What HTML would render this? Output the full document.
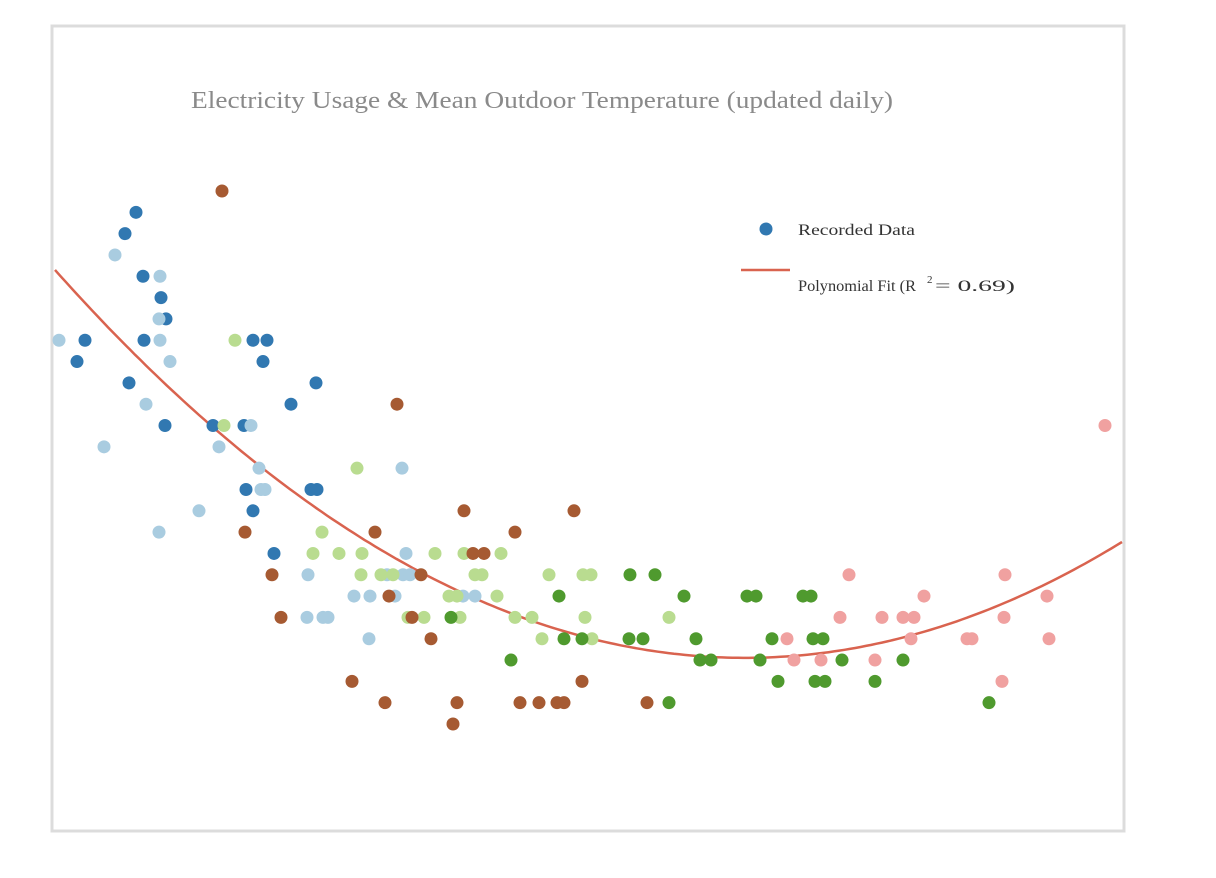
<!DOCTYPE html>
<html><head><meta charset="utf-8"><style>
html,body{margin:0;padding:0;background:#fff;}
svg{display:block;}
</style></head><body>
<svg id="chart" width="1216" height="878" viewBox="0 0 1216 878" xmlns="http://www.w3.org/2000/svg">
<rect x="52" y="26" width="1072" height="805" fill="#fff" stroke="#dcdcdc" stroke-width="3"/>
<text x="191" y="108" font-family="Liberation Serif, serif" font-size="24" fill="#8a8a8a" textLength="702" lengthAdjust="spacingAndGlyphs">Electricity Usage &amp; Mean Outdoor Temperature (updated daily)</text>
<g id="fit"></g>
<g id="pts"></g>
<g>
<circle cx="766" cy="229" r="6.5" fill="#3178b1"/>
<text x="798" y="235" font-family="Liberation Serif, serif" font-size="16" fill="#333" textLength="117" lengthAdjust="spacingAndGlyphs">Recorded Data</text>
<line x1="741" y1="270" x2="790" y2="270" stroke="#d9634f" stroke-width="2.5"/>
<text x="798" y="291" font-family="Liberation Serif, serif" font-size="16" fill="#333" textLength="118" lengthAdjust="spacingAndGlyphs">Polynomial Fit (R</text>
<text x="927" y="283" font-family="Liberation Serif, serif" font-size="11" fill="#333">2</text>
<text x="935" y="291" font-family="Liberation Serif, serif" font-size="16" fill="#333" textLength="80" lengthAdjust="spacingAndGlyphs">= 0.69)</text>
</g>
</svg>
<script>
const darkBlueT=[9.6,8.5,10.3,12.1,12.6,4.5,10.4,21.3,22.7,3.7,22.3,8.9,27.6,25.1,12.5,17.3,20.4,20.6,27.1,27.7,21.3,23.4];
const darkBlueV=[34,33,31,30,29,28,28,28,28,27,27,26,26,25,24,24,24,21,21,21,20,18];
const lightBlueT=[7.5,12,11.9,1.9,12,13,10.6,21.1,6.4,17.9,21.9,36.2,22.1,22.5,15.9,11.9,36.6,26.8,34.7,36.3,37,31.4,33,35.5,42.3,43.5,26.7,28.3,28.8,32.9];
const lightBlueV=[32,31,29,28,28,27,25,24,23,23,22,22,21,21,20,19,18,17,17,17,17,16,16,16,16,16,15,15,15,14];
const lightGreenT=[19.5,18.4,31.7,28.2,27.3,29.9,32.2,39.5,42.4,46.1,32.1,34.1,35.3,43.5,44.2,50.9,54.3,55.1,40.9,41.7,45.7,36.8,38.4,42,47.5,49.2,54.5,62.9,50.2,55.2];
const lightGreenV=[28,24,22,19,18,18,18,18,18,18,17,17,17,17,17,17,17,17,16,16,16,15,15,15,15,15,15,15,14,14];
const brownT=[18.2,35.7,42.4,53.4,20.5,33.5,47.5,43.3,44.4,23.2,38.1,34.9,24.1,37.2,39.1,31.2,54.2,34.5,41.7,48,49.9,51.7,52.4,60.7,41.3];
const brownV=[35,25,20,20,19,19,19,18,18,17,17,16,15,15,14,12,12,11,11,11,11,11,11,11,10];
const darkGreenT=[41.1,51.9,59,61.5,64.4,70.7,71.6,76.3,77.1,52.4,54.2,58.9,60.3,65.6,73.2,77.3,78.3,47.1,66,67.1,72,80.2,86.3,73.8,77.5,78.5,83.5,62.9,94.9];
const darkGreenV=[15,16,17,17,16,16,16,16,16,14,14,14,14,14,14,14,14,13,13,13,13,13,13,12,12,12,12,11,11];
const pinkT=[106.5,80.9,96.5,88.4,100.7,80,84.2,86.3,87.4,96.4,74.7,87.1,92.7,93.2,100.9,75.4,78.1,83.5,96.2];
const pinkV=[24,17,17,16,16,15,15,15,15,15,14,14,14,14,14,13,13,13,12];
const fitCoeffs=[32.10,-0.539,0.003823];
const fitRange=[1.5,108.2];

function xScale(t){return 40+t*10;}
function yScale(v){return 724-(v-10)*21.32;}
const NS='http://www.w3.org/2000/svg';
const pts=document.getElementById('pts');
const series=[
 ['dark-blue',darkBlueT,darkBlueV,'#3178b1'],
 ['light-blue',lightBlueT,lightBlueV,'#a9cce0'],
 ['light-green',lightGreenT,lightGreenV,'#b9dc90'],
 ['brown',brownT,brownV,'#a65a32'],
 ['dark-green',darkGreenT,darkGreenV,'#4f9a2e'],
 ['pink',pinkT,pinkV,'#f0a1a0']
];
series.forEach(s=>{
 for(let i=0;i<s[1].length;i++){
  const c=document.createElementNS(NS,'circle');
  c.setAttribute('cx',xScale(s[1][i]));
  c.setAttribute('cy',yScale(s[2][i]));
  c.setAttribute('r',6.5);
  c.setAttribute('fill',s[3]);
  
  
  pts.appendChild(c);
 }
});
let d='';
for(let k=0;k<=200;k++){
 const t=fitRange[0]+(fitRange[1]-fitRange[0])*k/200;
 const v=fitCoeffs[0]+fitCoeffs[1]*t+fitCoeffs[2]*t*t;
 d+=(k?'L':'M')+xScale(t).toFixed(1)+','+yScale(v).toFixed(1);
}
const p=document.createElementNS(NS,'path');
p.setAttribute('d',d);
p.setAttribute('fill','none');
p.setAttribute('stroke','#d9634f');
p.setAttribute('stroke-width','2.5');


document.getElementById('fit').appendChild(p);
</script>
</body></html>
